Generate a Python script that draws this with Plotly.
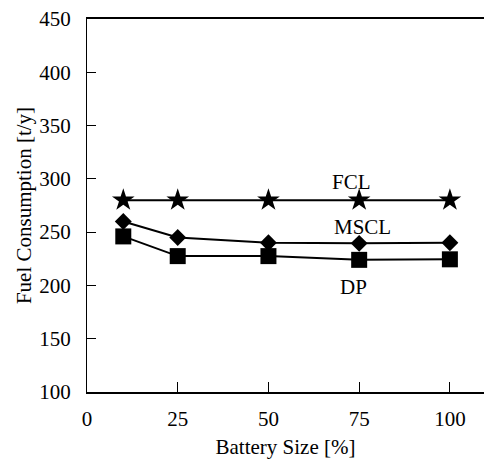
import plotly.graph_objects as go

battery = [10, 25, 50, 75, 100]
fcl = [280, 280, 280, 280, 280]
mscl = [260, 245, 240, 239.5, 240]
dp = [246, 227.5, 227.5, 224, 224.5]
x_ticks = [0, 25, 50, 75, 100]
y_ticks = [100, 150, 200, 250, 300, 350, 400, 450]

labels = [("FCL", 73, 297), ("MSCL", 76, 255), ("DP", 73.5, 198.5)]

font = "Liberation Serif, Times New Roman, serif"

fig = go.Figure()
fig.add_trace(go.Scatter(x=battery, y=fcl, mode="lines+markers",
                         line=dict(color="black", width=2),
                         marker=dict(symbol="star", size=17, color="black")))
fig.add_trace(go.Scatter(x=battery, y=mscl, mode="lines+markers",
                         line=dict(color="black", width=2),
                         marker=dict(symbol="diamond", size=13, color="black")))
fig.add_trace(go.Scatter(x=battery, y=dp, mode="lines+markers",
                         line=dict(color="black", width=2),
                         marker=dict(symbol="square", size=16, color="black")))

for text, lx, ly in labels:
    fig.add_annotation(x=lx, y=ly, text=text, showarrow=False,
                       font=dict(family=font, size=21, color="black"))

fig.update_layout(
    width=484, height=464,
    margin=dict(l=87, r=0, t=19, b=72),
    paper_bgcolor="white", plot_bgcolor="white",
    showlegend=False,
    font=dict(family=font, size=21, color="black"),
    xaxis=dict(range=[0, 109.4], tickvals=x_ticks, ticks="inside", ticklen=10,
               tickcolor="black", showline=True, linecolor="black", linewidth=1.5,
               mirror=True, showgrid=False, zeroline=False, ticklabelstandoff=7,
               tickfont=dict(size=21),
               title=dict(text="Battery Size [%]", font=dict(size=21), standoff=9)),
    yaxis=dict(range=[100, 450], tickvals=y_ticks, ticks="inside", ticklen=9,
               tickcolor="black", showline=True, linecolor="black", linewidth=1,
               showgrid=False, zeroline=False, ticklabelstandoff=11,
               tickfont=dict(size=21),
               title=dict(text="Fuel Consumption [t/y]", font=dict(size=21), standoff=1)),
)

fig.write_html("out.html")
